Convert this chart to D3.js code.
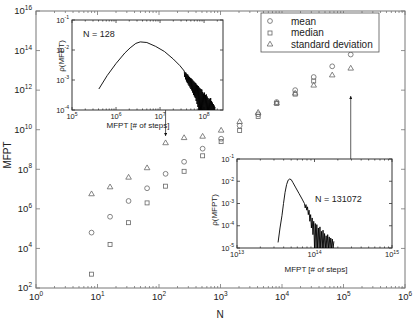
<!DOCTYPE html>
<html>
<head>
<meta charset="utf-8">
<script src="https://cdn.jsdelivr.net/npm/d3@7"></script>
<style>
  body { margin: 0; background: #fff; }
  svg { display: block; font-family: "Liberation Sans", Arial, sans-serif; }
</style>
</head>
<body>
<script>
// system sizes N
const sizesN = [8, 16, 32, 64, 128, 256, 512, 1024, 2048, 4096, 8192, 16384, 32768, 65536, 131072];
// MFPT statistics
const meanMFPT = [6.3e4, 4.0e5, 2.5e6, 1.1e7, 5.9e7, 2.4e8, 1.1e9, 3.5e9, 1.6e10, 6.0e10, 2.5e11, 1.0e12, 4.6e12, 1.6e13, 6.3e13];
const medianMFPT = [5.0e2, 1.6e4, 2.0e5, 2.0e6, 1.4e7, 7.9e7, 4.8e8, 2.5e9, 9.1e9, 4.7e10, 2.1e11, 6.3e11, 2.9e12];
const stdMFPT = [5.8e6, 1.3e7, 4.0e7, 1.2e8, 2.2e9, 4.0e9, 4.7e9, 9.5e9, 2.6e10, 7.6e10, 2.3e11, 7.1e11, 1.8e12, 5.9e12, 1.3e13];

const mainXTicks = [1e0, 1e1, 1e2, 1e3, 1e4, 1e5, 1e6];
const mainYTicks = [1e2, 1e4, 1e6, 1e8, 1e10, 1e12, 1e14, 1e16];

// insets: distributions, [log10 MFPT, log10 rho]; smooth part then noisy tail
const dist128 = [
  [5.61, -3.3], [5.8, -2.85], [6.0, -2.45], [6.2, -2.1], [6.32, -1.93], [6.45, -1.78], [6.55, -1.73],
  [6.7, -1.75], [6.9, -1.88], [7.1, -2.05], [7.3, -2.3], [7.45, -2.52], [7.55, -2.7]
];
const tail128 = [
  [7.55, -2.7], [7.56, -2.9], [7.57, -2.74], [7.58, -2.98], [7.59, -2.76], [7.6, -3.05], [7.61, -2.8],
  [7.62, -3.1], [7.63, -2.82], [7.64, -3.15], [7.65, -2.86], [7.66, -3.2], [7.67, -2.9], [7.68, -3.25],
  [7.69, -2.93], [7.7, -3.3], [7.71, -2.95], [7.72, -3.35], [7.73, -2.98], [7.74, -3.42], [7.75, -3.02],
  [7.76, -3.5], [7.77, -3.05], [7.78, -3.55], [7.79, -3.08], [7.8, -3.6], [7.81, -3.1], [7.82, -3.7],
  [7.83, -3.15], [7.84, -3.8], [7.85, -3.18], [7.86, -3.9], [7.87, -3.2], [7.88, -4.0], [7.89, -3.25],
  [7.9, -4.0], [7.91, -3.28], [7.92, -4.0], [7.93, -3.3], [7.94, -4.0], [7.95, -3.32], [7.96, -4.0],
  [7.97, -3.4], [7.98, -4.0], [7.99, -3.45], [8.0, -4.0], [8.01, -3.42], [8.02, -4.0], [8.03, -3.5],
  [8.04, -4.0], [8.05, -3.48], [8.06, -4.0], [8.07, -3.55], [8.08, -4.0], [8.09, -3.6], [8.1, -4.0],
  [8.11, -3.65], [8.12, -4.0], [8.13, -3.62], [8.14, -4.0], [8.15, -3.6], [8.16, -4.0], [8.17, -3.7],
  [8.18, -4.0], [8.19, -3.75], [8.2, -4.0], [8.21, -3.8], [8.22, -4.0], [8.23, -3.85], [8.24, -4.0], [8.25, -3.9]
];
const dist131072 = [
  [13.53, -4.75], [13.555, -4.1], [13.58, -3.55], [13.6, -3.0], [13.62, -2.5], [13.64, -2.15], [13.66, -1.95],
  [13.68, -1.9], [13.7, -1.93], [13.72, -2.05], [13.76, -2.3], [13.8, -2.55], [13.84, -2.8], [13.87, -3.0]
];
const tail131072 = [
  [13.87, -3.0], [13.88, -3.2], [13.89, -3.05], [13.9, -3.3], [13.91, -3.15], [13.92, -3.5], [13.93, -3.3],
  [13.94, -3.8], [13.95, -3.5], [13.96, -4.1], [13.97, -3.65], [13.98, -4.4], [13.99, -3.8], [14.0, -5.0],
  [14.01, -3.9], [14.02, -5.0], [14.03, -3.95], [14.04, -5.0], [14.05, -4.1], [14.06, -5.0], [14.07, -4.05],
  [14.08, -5.0], [14.09, -4.25], [14.1, -5.0], [14.11, -4.2], [14.12, -5.0], [14.13, -4.35], [14.14, -5.0],
  [14.15, -4.45], [14.16, -5.0], [14.17, -4.4], [14.18, -5.0], [14.19, -4.5], [14.2, -5.0], [14.21, -4.55],
  [14.22, -5.0], [14.23, -4.6], [14.24, -5.0], [14.25, -4.7]
];
const inset1XTicks = [1e5, 1e6, 1e7, 1e8];
const inset1YTicks = [1e-1, 1e-2, 1e-3, 1e-4];
const inset2XTicks = [1e13, 1e14, 1e15];
const inset2YTicks = [1e-1, 1e-2, 1e-3, 1e-4, 1e-5];

const legendLabels = ["mean", "median", "standard deviation"];

const W = 415, H = 324;
const svg = d3.select("body").append("svg").attr("width", W).attr("height", H);

const x = d3.scaleLog().domain([1, 1e6]).range([36, 405]);
const y = d3.scaleLog().domain([1e2, 1e16]).range([288, 11]);

const axisCol = "#777";
const markCol = "#666";

// superscript label "10^e"
function powLabel(sel, v, fs) {
  const e = Math.round(Math.log10(v));
  sel.text("10");
  sel.append("tspan").attr("dy", -fs * 0.45).attr("font-size", fs * 0.68).text(e);
}

// minor ticks of a log decade range
function minorTicks(scale) {
  const d = scale.domain();
  const out = [];
  for (let e = Math.floor(Math.log10(d[0])); e < Math.log10(d[1]); e++) {
    for (let k = 2; k < 10; k++) {
      const v = k * Math.pow(10, e);
      if (v > d[0] && v < d[1]) out.push(v);
    }
  }
  return out;
}

function frame(g, sx, sy, xt, yt, col, bigLen, smallLen) {
  const [x0, x1] = sx.range(), [y0, y1] = sy.range();
  g.append("rect").attr("x", x0).attr("y", y1).attr("width", x1 - x0).attr("height", y0 - y1)
    .attr("fill", "#fff").attr("stroke", col).attr("stroke-width", 1);
  const tk = g.append("g").attr("stroke", col).attr("stroke-width", 0.8);
  xt.forEach(v => {
    tk.append("line").attr("x1", sx(v)).attr("x2", sx(v)).attr("y1", y0).attr("y2", y0 - bigLen);
    tk.append("line").attr("x1", sx(v)).attr("x2", sx(v)).attr("y1", y1).attr("y2", y1 + bigLen);
  });
  minorTicks(sx).forEach(v => {
    tk.append("line").attr("x1", sx(v)).attr("x2", sx(v)).attr("y1", y0).attr("y2", y0 - smallLen);
    tk.append("line").attr("x1", sx(v)).attr("x2", sx(v)).attr("y1", y1).attr("y2", y1 + smallLen);
  });
  yt.forEach(v => {
    tk.append("line").attr("y1", sy(v)).attr("y2", sy(v)).attr("x1", x0).attr("x2", x0 + bigLen);
    tk.append("line").attr("y1", sy(v)).attr("y2", sy(v)).attr("x1", x1).attr("x2", x1 - bigLen);
  });
}

function tickLabels(g, sx, sy, xt, yt, fs, xOff, yOff) {
  const [x0] = sx.range(), [y0] = sy.range();
  g.selectAll(null).data(xt).enter().append("text")
    .attr("x", d => sx(d)).attr("y", y0 + yOff)
    .attr("text-anchor", "middle").attr("font-size", fs).attr("fill", "#222")
    .each(function (d) { powLabel(d3.select(this), d, fs); });
  g.selectAll(null).data(yt).enter().append("text")
    .attr("x", x0 - xOff).attr("y", d => sy(d) + fs * 0.35)
    .attr("text-anchor", "end").attr("font-size", fs).attr("fill", "#222")
    .each(function (d) { powLabel(d3.select(this), d, fs); });
}

// main frame
const main = svg.append("g");
frame(main, x, y, mainXTicks, mainYTicks, axisCol, 4, 2);
tickLabels(main, x, y, mainXTicks, mainYTicks, 9.5, 4, 12);

main.append("text").attr("x", 220).attr("y", 318).attr("text-anchor", "middle")
  .attr("font-size", 10).attr("fill", "#222").text("N");
main.append("text").attr("transform", "translate(11,155) rotate(-90)").attr("text-anchor", "middle")
  .attr("font-size", 10).attr("fill", "#222").text("MFPT");

// markers
const marks = main.append("g").attr("fill", "none").attr("stroke", markCol).attr("stroke-width", 0.8);
const circ = (g, cx, cy) => g.append("circle").attr("cx", cx).attr("cy", cy).attr("r", 2.4);
const sq = (g, cx, cy) => g.append("rect").attr("x", cx - 2).attr("y", cy - 2).attr("width", 4).attr("height", 4);
const tri = (g, cx, cy) => g.append("path").attr("d", `M${cx - 2.8},${cy + 2}L${cx + 2.8},${cy + 2}L${cx},${cy - 2.8}Z`);

meanMFPT.forEach((v, i) => circ(marks, x(sizesN[i]), y(v)));
medianMFPT.forEach((v, i) => sq(marks, x(sizesN[i]), y(v)));
stdMFPT.forEach((v, i) => tri(marks, x(sizesN[i]), y(v)));

// legend
const lg = main.append("g");
lg.append("rect").attr("x", 261).attr("y", 13).attr("width", 118).attr("height", 39)
  .attr("fill", "#fff").attr("stroke", "#555").attr("stroke-width", 0.8);
const lgm = lg.append("g").attr("fill", "none").attr("stroke", markCol).attr("stroke-width", 0.8);
circ(lgm, 270, 21); sq(lgm, 270, 33); tri(lgm, 270, 44);
legendLabels.forEach((t, i) => {
  lg.append("text").attr("x", 291).attr("y", 24.5 + i * 11.5).attr("font-size", 10).attr("fill", "#222").text(t);
});

// arrows
const defs = svg.append("defs");
defs.append("marker").attr("id", "ah").attr("viewBox", "0 0 6 6").attr("refX", 6).attr("refY", 3)
  .attr("markerWidth", 4).attr("markerHeight", 4).attr("orient", "auto")
  .append("path").attr("d", "M0,0L6,3L0,6Z").attr("fill", "#111");
main.append("line").attr("x1", x(128)).attr("x2", x(128)).attr("y1", 110).attr("y2", 136)
  .attr("stroke", "#333").attr("stroke-width", 0.8).attr("marker-end", "url(#ah)");
main.append("line").attr("x1", x(131072)).attr("x2", x(131072)).attr("y1", 159).attr("y2", 96)
  .attr("stroke", "#333").attr("stroke-width", 0.8).attr("marker-end", "url(#ah)");

// inset helper
function inset(sx, sy, xt, yt, data, tail, nLabel, nx, ny, xLabX, xLabY, yLabX, yLabY) {
  const g = svg.append("g");
  frame(g, sx, sy, xt, yt, "#333", 3, 1.5);
  const line = d3.line().x(d => sx(Math.pow(10, d[0]))).y(d => sy(Math.pow(10, d[1])));
  g.append("path").datum(data).attr("d", line).attr("fill", "none")
    .attr("stroke", "#000").attr("stroke-width", 0.9);
  g.append("path").datum(tail).attr("d", line).attr("fill", "none")
    .attr("stroke", "#000").attr("stroke-width", 0.9);
  tickLabels(g, sx, sy, xt, yt, 7.5, 3, 9);
  g.append("text").attr("x", nx).attr("y", ny).attr("font-size", 9).attr("fill", "#222").text(nLabel);
  g.append("text").attr("x", xLabX).attr("y", xLabY).attr("text-anchor", "middle")
    .attr("font-size", 8).attr("fill", "#222").text("MFPT [# of steps]");
  g.append("text").attr("transform", `translate(${yLabX},${yLabY}) rotate(-90)`).attr("text-anchor", "middle")
    .attr("font-size", 8).attr("fill", "#222").text("\u03c1(MFPT)");
}

const ix1 = d3.scaleLog().domain([1e5, Math.pow(10, 8.43)]).range([72, 223]);
const iy1 = d3.scaleLog().domain([1e-4, 1e-1]).range([110, 20]);
inset(ix1, iy1, inset1XTicks, inset1YTicks, dist128, tail128, "N = 128", 83, 37, 138, 128, 64, 56);

const ix2 = d3.scaleLog().domain([1e13, 1e15]).range([237, 392]);
const iy2 = d3.scaleLog().domain([1e-5, 1e-1]).range([248, 159]);
inset(ix2, iy2, inset2XTicks, inset2YTicks, dist131072, tail131072, "N = 131072", 315, 202, 316, 272, 217, 210);
</script>
</body>
</html>
